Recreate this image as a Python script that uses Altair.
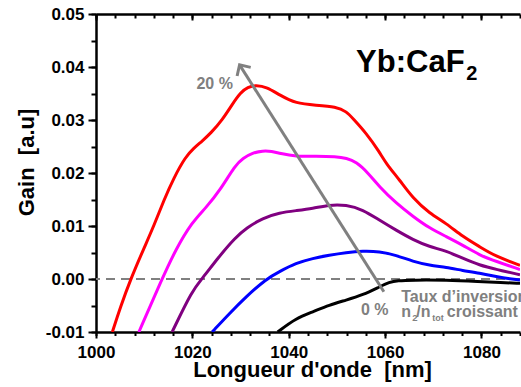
import altair as alt
import pandas as pd

# ---------------- data ----------------
series_names = ["0 %", "5 %", "10 %", "15 %", "20 %"]
series_colors = ["#000000", "#0000FF", "#800080", "#FF00FF", "#FF0000"]

black_x = [1037.7, 1041.5, 1045.0, 1048.4, 1051.9, 1055.4, 1058.8, 1060.9, 1062.5, 1065.8, 1072.7, 1079.6, 1084.0, 1088.0]
black_y = [-0.0100, -0.0074, -0.0062, -0.0049, -0.0040, -0.0030, -0.0015, -0.0006, -0.0003, -0.0002, -0.0002, -0.0005, -0.0007, -0.0008]

blue_x = [1024.1, 1027.7, 1031.2, 1035.3, 1038.1, 1041.5, 1045.0, 1048.4, 1051.9, 1055.4, 1058.8, 1062.3, 1065.8, 1069.2, 1072.7, 1076.1, 1079.6, 1083.1, 1088.0]
blue_y = [-0.0100, -0.0065, -0.0033, 0.0000, 0.0014, 0.0030, 0.0039, 0.0045, 0.0050, 0.0053, 0.0052, 0.0045, 0.0033, 0.0026, 0.0022, 0.0016, 0.0011, 0.0004, -0.0002]

purple_x = [1015.8, 1020.0, 1022.0, 1025.5, 1028.9, 1031.2, 1034.6, 1038.1, 1041.5, 1045.0, 1048.4, 1051.9, 1055.4, 1058.8, 1062.3, 1065.8, 1069.2, 1072.7, 1076.1, 1079.6, 1083.1, 1088.0]
purple_y = [-0.0100, -0.0021, 0.0000, 0.0042, 0.0078, 0.0096, 0.0115, 0.0125, 0.0129, 0.0133, 0.0140, 0.0140, 0.0131, 0.0111, 0.0092, 0.0074, 0.0061, 0.0053, 0.0039, 0.0026, 0.0018, 0.0008]

magenta_x = [1008.9, 1013.7, 1016.5, 1020.0, 1022.7, 1025.8, 1028.9, 1030.5, 1032.5, 1034.6, 1036.5, 1038.1, 1041.5, 1045.7, 1049.8, 1052.0, 1054.0, 1056.5, 1058.8, 1062.3, 1065.8, 1069.2, 1072.7, 1076.1, 1079.6, 1083.1, 1088.0]
magenta_y = [-0.0100, 0.0000, 0.0055, 0.0108, 0.0133, 0.0168, 0.0215, 0.0228, 0.0238, 0.0242, 0.0241, 0.0237, 0.0231, 0.0232, 0.0231, 0.0228, 0.0221, 0.0200, 0.0174, 0.0143, 0.0118, 0.0096, 0.0080, 0.0064, 0.0045, 0.0033, 0.0018]

red_x = [1003.4, 1005.1, 1007.2, 1010.0, 1012.0, 1014.1, 1016.1, 1018.6, 1020.3, 1022.0, 1023.8, 1026.2, 1028.3, 1030.0, 1031.5, 1033.2, 1035.5, 1038.1, 1041.5, 1045.7, 1049.8, 1052.0, 1053.3, 1056.1, 1058.8, 1060.2, 1063.0, 1065.8, 1069.2, 1072.7, 1076.1, 1079.6, 1083.1, 1088.0]
red_y = [-0.0100, -0.0052, 0.0000, 0.0059, 0.0100, 0.0149, 0.0190, 0.0231, 0.0247, 0.0260, 0.0275, 0.0300, 0.0330, 0.0352, 0.0362, 0.0366, 0.0362, 0.0347, 0.0331, 0.0328, 0.0325, 0.0316, 0.0303, 0.0275, 0.0240, 0.0218, 0.0187, 0.0152, 0.0124, 0.0105, 0.0080, 0.0061, 0.0042, 0.0026]

x_major = [1000, 1020, 1040, 1060, 1080]
x_minor = [1000, 1004, 1008, 1012, 1016, 1020, 1024, 1028, 1032, 1036, 1040, 1044, 1048,
           1052, 1056, 1060, 1064, 1068, 1072, 1076, 1080, 1084, 1088]
y_major = [-0.01, 0.0, 0.01, 0.02, 0.03, 0.04, 0.05]
y_minor = [-0.01, -0.005, 0.0, 0.005, 0.01, 0.015, 0.02, 0.025, 0.03, 0.035, 0.04, 0.045, 0.05]

# arrow (tail -> head) in data units
arrow_x = [1059.75]
arrow_y = [-0.0024]
arrow_x2 = [1029.8]
arrow_y2 = [0.0404]

# annotations
ann_text = ["20 %", "0 %", "Taux d\u2019inversion", "n", "2", "/n", "tot", "croissant", "Yb:CaF", "2"]
ann_x = [1020.85, 1055.0, 1063.35, 1063.35, 1065.63, 1066.46, 1069.78, 1072.81, 1053.98, 1076.82]
ann_y = [0.03585, -0.00679, -0.00428, -0.00711, -0.00787, -0.00711, -0.00787, -0.00711, 0.0391, 0.03755]
ann_size = [16, 16, 16, 16, 9.5, 16, 9, 16, 31, 20]
ann_color = ["#808080"] * 8 + ["#000000", "#000000"]

# ---------------- build tables ----------------
rows = []
for name, xs, ys in zip(series_names,
                        [black_x, blue_x, purple_x, magenta_x, red_x],
                        [black_y, blue_y, purple_y, magenta_y, red_y]):
    for i, (a, b) in enumerate(zip(xs, ys)):
        rows.append({"wl": a, "gain": b, "series": name, "i": i})
curves = pd.DataFrame(rows)

zero_df = pd.DataFrame({"gain": [0.0]})
arrow_df = pd.DataFrame({"x": arrow_x, "y": arrow_y, "x2": arrow_x2, "y2": arrow_y2})
head_df = pd.DataFrame({"x": arrow_x2, "y": arrow_y2})
ann_df = pd.DataFrame({"text": ann_text, "x": ann_x, "y": ann_y, "size": ann_size, "color": ann_color})

FONT = "Liberation Sans"
GRAY = "#808080"
SP = "\u00a0"

xs = alt.Scale(domain=[1000, 1088], nice=False, zero=False)
ys = alt.Scale(domain=[-0.01, 0.05], nice=False, zero=False)

common_axis = dict(domainColor="black", tickColor="black", grid=False)

ax_bottom_major = alt.Axis(orient="bottom", values=x_major, tickSize=6, tickWidth=2, domainWidth=2.5,
                           labelFont=FONT, labelFontWeight="bold", labelFontSize=17, labelColor="black",
                           labelPadding=6, format="d", labelFlush=False, labelOverlap=False,
                           title="Longueur d'onde" + SP + SP + "[nm]", titleFont=FONT, titleFontWeight="bold",
                           titleFontSize=22, titleColor="black", titleBaseline="alphabetic",
                           titleX=216, titleY=44, titleAlign="center", **common_axis)
ax_bottom_minor = alt.Axis(orient="bottom", values=x_minor, tickSize=3.5, tickWidth=2, domain=False,
                           labels=False, title=None, **common_axis)
ax_top_domain = alt.Axis(orient="top", ticks=False, labels=False, domain=True, domainWidth=2.5,
                         title=None, **common_axis)
ax_top_major = alt.Axis(orient="top", values=x_major, tickSize=6, tickWidth=2, domain=False,
                        labels=False, title=None, offset=-6, **common_axis)
ax_top_minor = alt.Axis(orient="top", values=x_minor, tickSize=4, tickWidth=2, domain=False,
                        labels=False, title=None, offset=-4, **common_axis)

ax_left_major = alt.Axis(orient="left", values=y_major, tickSize=8, tickWidth=2, domainWidth=2.5,
                         labelFont=FONT, labelFontWeight="bold", labelFontSize=17, labelColor="black",
                         labelPadding=4, labelFlush=False, labelOverlap=False,
                         labelExpr="datum.value < 0 ? '-' + format(-datum.value, '.2f') : format(datum.value, '.2f')",
                         title="Gain" + SP + SP + "[a.u]", titleFont=FONT, titleFontWeight="bold", titleFontSize=22,
                         titleColor="black", titleBaseline="alphabetic", titleAngle=270,
                         titleX=-63, titleY=148, titleAlign="center", **common_axis)
ax_left_minor = alt.Axis(orient="left", values=y_minor, tickSize=5, tickWidth=2, domain=False,
                         labels=False, title=None, **common_axis)

color_scale = alt.Scale(domain=series_names, range=series_colors)

zero_line = alt.Chart(zero_df).mark_rule(color=GRAY, strokeWidth=2, strokeDash=[9, 6]).encode(
    y=alt.Y("gain:Q", scale=ys, axis=None)
)

lines = alt.Chart(curves).mark_line(strokeWidth=3, clip=True, interpolate="basis").encode(
    x=alt.X("wl:Q", scale=xs, axis=ax_bottom_major),
    y=alt.Y("gain:Q", scale=ys, axis=ax_left_major),
    color=alt.Color("series:N", scale=color_scale, legend=None),
    order=alt.Order("i:Q"),
)

def axis_layer(xaxis, yaxis):
    return alt.Chart(curves).mark_point(opacity=0).encode(
        x=alt.X("wl:Q", scale=xs, axis=xaxis),
        y=alt.Y("gain:Q", scale=ys, axis=yaxis),
    )

minor_layer = axis_layer(ax_bottom_minor, ax_left_minor)
top_dom = axis_layer(ax_top_domain, None)
top_maj = axis_layer(ax_top_major, None)
top_min = axis_layer(ax_top_minor, None)

arrow = alt.Chart(arrow_df).mark_rule(color=GRAY, strokeWidth=3).encode(
    x=alt.X("x:Q", scale=xs, axis=None),
    y=alt.Y("y:Q", scale=ys, axis=None),
    x2="x2:Q",
    y2="y2:Q",
)

head = alt.Chart(head_df).mark_point(
    shape="M-1,1L0,0L1,1", filled=False, stroke=GRAY, strokeWidth=3, size=260, angle=327.6,
    opacity=1, strokeCap="butt", strokeJoin="miter",
).encode(
    x=alt.X("x:Q", scale=xs, axis=None),
    y=alt.Y("y:Q", scale=ys, axis=None),
)

texts = alt.Chart(ann_df).mark_text(
    align="left", baseline="alphabetic", font=FONT, fontWeight="bold"
).encode(
    x=alt.X("x:Q", scale=xs, axis=None),
    y=alt.Y("y:Q", scale=ys, axis=None),
    text="text:N",
    size=alt.Size("size:Q", scale=None),
    color=alt.Color("color:N", scale=None),
)

chart = alt.layer(
    zero_line, lines, minor_layer, top_dom, top_maj, top_min, arrow, head, texts
).resolve_axis(
    x="independent", y="independent"
).properties(
    width=424, height=318,
    autosize=alt.AutoSizeParams(type="none"),
    padding={"left": 96, "top": 14, "right": 1, "bottom": 55},
    background="white",
).configure_view(stroke=None)

chart.save("out.html", embed_options={"renderer": "svg", "actions": False})
